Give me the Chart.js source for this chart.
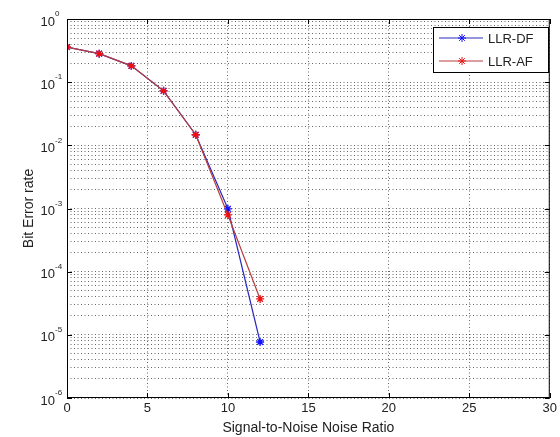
<!DOCTYPE html>
<html>
<head>
<meta charset="utf-8">
<script src="https://cdn.jsdelivr.net/npm/chart.js@4.4.0/dist/chart.umd.min.js"></script>
<style>
  html, body { margin: 0; background: #fff; }
  #wrap { width: 560px; height: 437px; }
</style>
</head>
<body>
<div id="wrap"><canvas id="berChart"></canvas></div>
<script>
// values
const snr = [0, 2, 4, 6, 8, 10, 12];
const berDF = [0.36, 0.283, 0.181, 0.073, 0.0147, 9.9e-4, 7.7e-6];
const berAF = [0.36, 0.283, 0.181, 0.073, 0.0147, 7.9e-4, 3.7e-5];
const xTicks = [0, 5, 10, 15, 20, 25, 30];
const yExponents = [-6, -5, -4, -3, -2, -1, 0];
const seriesNames = ['LLR-DF', 'LLR-AF'];

const FONT = '"Liberation Sans", Arial, sans-serif';
const DOTS = [1, 2.5];

// log grid: 1..9 in every decade, plus the top
const yGrid = [];
yExponents.slice(0, -1).forEach(e => {
    for (let m = 1; m < 10; m++) yGrid.push(m * Math.pow(10, e));
});
yGrid.push(1);

// box, inward ticks, y labels with superscript, legend
const matlabAxes = {
    id: 'matlabAxes',
    afterDraw(chart) {
        const { ctx, chartArea: a, scales: { x, y } } = chart;
        ctx.save();
        ctx.strokeStyle = '#000';
        ctx.lineWidth = 1;
        ctx.strokeRect(a.left + 0.5, a.top + 0.5, a.width - 1, a.height - 1);

        ctx.beginPath();
        xTicks.forEach(v => {
            const px = Math.round(x.getPixelForValue(v)) + 0.5;
            ctx.moveTo(px, a.bottom); ctx.lineTo(px, a.bottom - 5);
            ctx.moveTo(px, a.top); ctx.lineTo(px, a.top + 5);
        });
        yExponents.forEach(e => {
            const py = Math.round(y.getPixelForValue(Math.pow(10, e))) + 0.5;
            ctx.moveTo(a.left, py); ctx.lineTo(a.left + 5, py);
            ctx.moveTo(a.right, py); ctx.lineTo(a.right - 5, py);
        });
        ctx.stroke();

        ctx.fillStyle = '#222';
        yExponents.forEach(e => {
            const py = y.getPixelForValue(Math.pow(10, e));
            ctx.font = '13px ' + FONT;
            ctx.textAlign = 'right';
            ctx.textBaseline = 'middle';
            ctx.fillText('10', a.left - 12, py + 3);
            ctx.font = '8px ' + FONT;
            ctx.textAlign = 'left';
            ctx.fillText(String(e), a.left - 12, py - 5);
        });

        // legend
        const lx = 433, ly = 27, lw = 115, lh = 45;
        ctx.fillStyle = '#fff';
        ctx.fillRect(lx, ly, lw, lh);
        ctx.strokeStyle = '#000';
        ctx.strokeRect(lx + 0.5, ly + 0.5, lw, lh);
        chart.data.datasets.forEach((ds, i) => {
            const yy = ly + 11 + i * 23;
            ctx.strokeStyle = ds.borderColor;
            ctx.lineWidth = 1;
            ctx.beginPath();
            ctx.moveTo(lx + 6, yy); ctx.lineTo(lx + 50, yy);
            ctx.stroke();
            ctx.strokeStyle = ds.pointBorderColor;
            Chart.helpers.drawPoint(ctx, { pointStyle: 'star', radius: 4, borderWidth: 1.3 }, lx + 29, yy);
            ctx.fillStyle = '#222';
            ctx.font = '13px ' + FONT;
            ctx.textAlign = 'left';
            ctx.textBaseline = 'middle';
            ctx.fillText(ds.label, lx + 55, yy + 1);
        });
        ctx.restore();
    }
};

new Chart(document.getElementById('berChart'), {
    type: 'line',
    data: {
        datasets: [
            {
                label: seriesNames[0],
                data: snr.map((s, i) => ({ x: s, y: berDF[i] })),
                borderColor: '#2a2ac0',
                backgroundColor: '#1010ff',
                pointBorderColor: '#1010ff',
                borderWidth: 1.2,
                pointStyle: 'star',
                pointRadius: 4,
                pointBorderWidth: 1.3,
                order: 1
            },
            {
                label: seriesNames[1],
                data: snr.map((s, i) => ({ x: s, y: berAF[i] })),
                borderColor: '#b83c3c',
                backgroundColor: '#ee1010',
                pointBorderColor: '#ee1010',
                borderWidth: 1.2,
                pointStyle: 'star',
                pointRadius: 4,
                pointBorderWidth: 1.3,
                order: 0
            }
        ]
    },
    options: {
        responsive: true,
        maintainAspectRatio: false,
        animation: false,
        layout: { padding: { top: 19, right: 10, left: 21, bottom: 0 } },
        plugins: { legend: { display: false }, tooltip: { enabled: false } },
        scales: {
            x: {
                type: 'linear',
                min: 0,
                max: 30,
                afterBuildTicks: s => { s.ticks = xTicks.map(v => ({ value: v })); },
                afterFit: s => { s.height = 39; },
                grid: { color: 'rgba(0,0,0,0.6)', drawTicks: false },
                border: { display: false, dash: DOTS },
                ticks: { color: '#222', font: { family: FONT, size: 13 }, padding: 3, maxRotation: 0 },
                title: { display: true, text: 'Signal-to-Noise Noise Ratio', color: '#222',
                         font: { family: FONT, size: 14 }, padding: { top: 0, bottom: 0 } }
            },
            y: {
                type: 'logarithmic',
                min: 1e-6,
                max: 1,
                afterBuildTicks: s => { s.ticks = yGrid.map(v => ({ value: v })); },
                afterFit: s => { s.width = 46; },
                grid: { color: 'rgba(0,0,0,0.6)', drawTicks: false },
                border: { display: false, dash: DOTS },
                ticks: { display: false },
                title: { display: true, text: 'Bit Error rate', color: '#222',
                         font: { family: FONT, size: 14 }, padding: { top: 0, bottom: 0 } }
            }
        }
    },
    plugins: [matlabAxes]
});
</script>
</body>
</html>
